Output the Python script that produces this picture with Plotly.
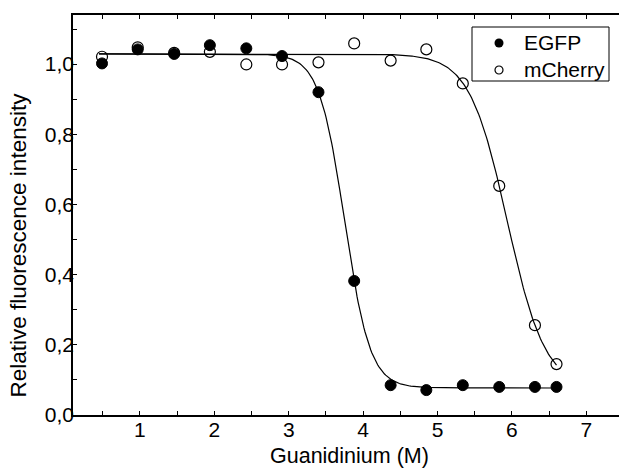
import numpy as np
import plotly.graph_objects as go

# Data
guanidinium = [0.49, 0.97, 1.46, 1.94, 2.43, 2.91, 3.40, 3.88, 4.37, 4.85, 5.34, 5.83, 6.31, 6.60]
egfp = [1.002, 1.042, 1.029, 1.054, 1.045, 1.023, 0.920, 0.382, 0.085, 0.071, 0.085, 0.080, 0.080, 0.080]
mcherry = [1.021, 1.048, 1.032, 1.035, 0.999, 0.999, 1.005, 1.059, 1.010, 1.042, 0.945, 0.653, 0.256, 0.145]
series_names = ["EGFP", "mCherry"]

# Boltzmann fit parameters (top, bottom, midpoint, slope)
egfp_fit = dict(top=1.029, bottom=0.077, x0=3.751, dx=0.1715)
mcherry_fit = dict(top=1.029, bottom=0.077, x0=5.938, dx=0.254)
fit_start, fit_end = 0.45, 6.60

FONT = "Liberation Sans, Arial, sans-serif"
W, H = 619, 470
ML, MR, MT, MB = 73, 0, 15, 55
PW, PH = W - ML - MR, H - MT - MB


def px_to_paper(px, py):
    return (px - ML) / PW, (H - MB - py) / PH


def boltzmann(x, p):
    return p["bottom"] + (p["top"] - p["bottom"]) / (1 + np.exp((x - p["x0"]) / p["dx"]))


xf = np.linspace(fit_start, fit_end, 400)

fig = go.Figure()
for p in (egfp_fit, mcherry_fit):
    fig.add_trace(go.Scatter(x=xf, y=boltzmann(xf, p), mode="lines",
                             line=dict(color="black", width=1.2),
                             showlegend=False, hoverinfo="skip"))

fig.add_trace(go.Scatter(x=guanidinium, y=egfp, mode="markers", name=series_names[0],
                         showlegend=False,
                         marker=dict(symbol="circle", size=11, color="black",
                                     line=dict(color="black", width=1))))
fig.add_trace(go.Scatter(x=guanidinium, y=mcherry, mode="markers", name=series_names[1],
                         showlegend=False,
                         marker=dict(symbol="circle-open", size=11, color="black",
                                     line=dict(color="black", width=1.2))))

# ---- hand-built legend (box, symbols, labels) in paper coordinates ----
bx0, by0 = px_to_paper(472, 81)
bx1, by1 = px_to_paper(609, 27)
fig.add_shape(type="rect", xref="paper", yref="paper", x0=bx0, y0=by0, x1=bx1, y1=by1,
              line=dict(color="black", width=1), fillcolor="white", layer="below")
leg_rows = [43, 70]
sym_x, txt_x = 499, 522
leg_sym = [dict(symbol="circle", size=9, color="black"),
           dict(symbol="circle-open", size=8, color="black", line=dict(width=1.2, color="black"))]
for name, row, m in zip(series_names, leg_rows, leg_sym):
    sx, sy = px_to_paper(sym_x, row)
    fig.add_trace(go.Scatter(x=[sx], y=[sy], xaxis="x2", yaxis="y2", mode="markers",
                             marker=m, showlegend=False, hoverinfo="skip"))
    tx, ty = px_to_paper(txt_x, row)
    fig.add_annotation(text=name, xref="paper", yref="paper", x=tx, y=ty,
                       xanchor="left", yanchor="middle", showarrow=False,
                       font=dict(family=FONT, size=21, color="black"))

axis_common = dict(showgrid=False, zeroline=False, showline=True, linecolor="black",
                   linewidth=1.5, ticks="inside", ticklen=4, tickwidth=1.2,
                   tickcolor="black", tickfont=dict(family=FONT, size=21, color="black"))

fig.update_xaxes(range=[0.1, 7.44], dtick=1, tick0=0, mirror="ticks",
                 ticklabelstandoff=-5,
                 minor=dict(dtick=0.5, tick0=0, ticks="inside", ticklen=4,
                            tickcolor="black", tickwidth=1.2),
                 **axis_common)
fig.update_yaxes(range=[0, 1.14], dtick=0.2, tick0=0, tickformat=".1f",
                 ticklabelstandoff=-7,
                 minor=dict(dtick=0.1, tick0=0, ticks="inside", ticklen=4,
                            tickcolor="black", tickwidth=1.2),
                 **axis_common)

# axis titles as annotations, placed as in the original
fig.add_annotation(text="Guanidinium (M)", xref="paper", yref="paper",
                   x=(349 - ML) / PW, y=(H - MB - 470) / PH,
                   xanchor="center", yanchor="bottom", showarrow=False,
                   font=dict(family=FONT, size=21.5, color="black"))
fig.add_annotation(text="Relative fluorescence intensity", textangle=-90,
                   xref="paper", yref="paper", x=-0.098, y=0.425,
                   xanchor="center", yanchor="middle", showarrow=False,
                   font=dict(family=FONT, size=22.5, color="black"))

fig.update_layout(
    width=W, height=H,
    margin=dict(l=ML, r=MR, t=MT, b=MB),
    paper_bgcolor="white", plot_bgcolor="white",
    separators=", ",
    showlegend=False,
    xaxis2=dict(overlaying="x", range=[0, 1], visible=False, fixedrange=True),
    yaxis2=dict(overlaying="y", range=[0, 1], visible=False, fixedrange=True),
)

fig.write_html("out.html")
